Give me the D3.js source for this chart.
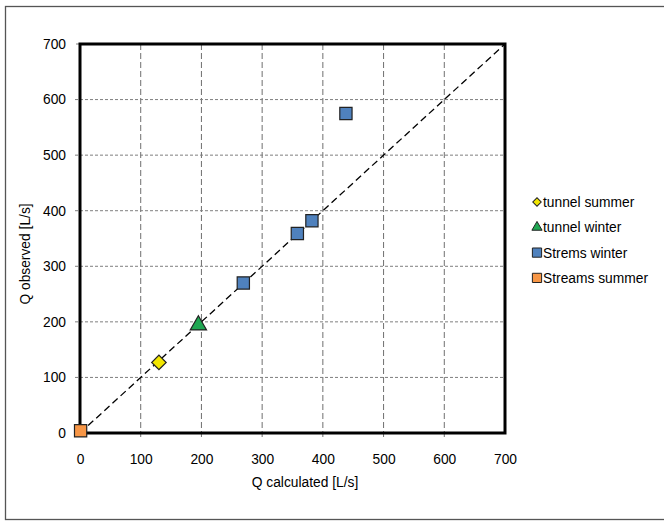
<!DOCTYPE html>
<html><head><meta charset="utf-8">
<script src="https://cdn.jsdelivr.net/npm/d3@7"></script>
<style>body{margin:0;background:#fff}text{font-family:"Liberation Sans",Arial,sans-serif;}</style>
</head><body>
<svg id="c" width="664" height="522"></svg>
<script>
const xTicks = [0,100,200,300,400,500,600,700];
const yTicks = [0,100,200,300,400,500,600,700];
const tunnelSummer = [[130,127]];
const tunnelWinter = [[195,194]];
const stremsWinter = [[269,270],[358,359],[382,382],[438,575]];
const streamsSummer = [[1,4]];
const legendLabels = ["tunnel summer","tunnel winter","Strems winter","Streams summer"];

const FS = 13.8;
const svg = d3.select("#c");
svg.append("rect").attr("x",5.5).attr("y",6.5).attr("width",670).attr("height",513)
  .attr("fill","#fff").attr("stroke","#555").attr("stroke-width",1.3);

const x = d3.scaleLinear().domain([0,700]).range([80,505]);
const y = d3.scaleLinear().domain([0,700]).range([433,44]);

const g = svg.append("g");
g.selectAll(".vg").data(xTicks.filter(d=>d>0&&d<700)).enter().append("line")
  .attr("x1",d=>x(d)).attr("x2",d=>x(d)).attr("y1",y(700)).attr("y2",y(0)+5)
  .attr("stroke","#6f6f6f").attr("stroke-width",1).attr("stroke-dasharray","6,3");
g.selectAll(".hg").data(yTicks.filter(d=>d>0&&d<700)).enter().append("line")
  .attr("x1",x(0)-5).attr("x2",x(700)).attr("y1",d=>y(d)).attr("y2",d=>y(d))
  .attr("stroke","#7f7f7f").attr("stroke-width",1).attr("stroke-dasharray","3,2");
g.append("line").attr("x1",x(0)-4).attr("x2",x(0)).attr("y1",y(700)).attr("y2",y(700)).attr("stroke","#7f7f7f");
g.append("line").attr("x1",x(0)-4).attr("x2",x(0)).attr("y1",y(0)).attr("y2",y(0)).attr("stroke","#7f7f7f");

const xa = svg.append("g").attr("transform",`translate(0,${y(0)})`)
  .call(d3.axisBottom(x).tickValues(xTicks).tickSize(0).tickPadding(21));
xa.select(".domain").remove();
xa.selectAll("text").attr("font-size",FS).attr("fill","#000").attr("font-family","Liberation Sans, Arial, sans-serif");
const ya = svg.append("g").attr("transform",`translate(${x(0)},0)`)
  .call(d3.axisLeft(y).tickValues(yTicks).tickSize(0).tickPadding(14));
ya.select(".domain").remove();
ya.selectAll("text").attr("font-size",FS).attr("fill","#000").attr("font-family","Liberation Sans, Arial, sans-serif");

svg.append("rect").attr("x",x(0)).attr("y",y(700)).attr("width",x(700)-x(0)).attr("height",y(0)-y(700))
  .attr("fill","none").attr("stroke","#000").attr("stroke-width",3);

svg.append("line").attr("x1",x(0)).attr("y1",y(0)).attr("x2",x(700)).attr("y2",y(700))
  .attr("stroke","#000").attr("stroke-width",1.3).attr("stroke-dasharray","7,4");

const sq = d3.symbol().type(d3.symbolSquare).size(150);
const tri = d3.symbol().type(d3.symbolTriangle).size(115);
const dia = d3.symbol().type(d3.symbolSquare).size(105);
function pts(data, sym, fill, rot){
  svg.append("g").selectAll("path").data(data).enter().append("path")
    .attr("d",sym).attr("transform",d=>`translate(${x(d[0])},${y(d[1])}) rotate(${rot||0})`)
    .attr("fill",fill).attr("stroke","#222").attr("stroke-width",1.2);
}
pts(tunnelSummer, dia, "#f2e600", 45);
pts(tunnelWinter, tri, "#1fa752");
pts(stremsWinter, sq, "#4f81bd");
pts(streamsSummer, sq, "#f79646");

const legSyms = [[d3.symbolSquare,"#f2e600",36,45],[d3.symbolTriangle,"#1fa752",45,0],[d3.symbolSquare,"#4f81bd",85,0],[d3.symbolSquare,"#f79646",85,0]];
const leg = svg.append("g");
legendLabels.forEach((t,i)=>{
  const yy = 202 + i*25.3;
  leg.append("path").attr("d",d3.symbol().type(legSyms[i][0]).size(legSyms[i][2]))
    .attr("transform",`translate(537,${yy}) rotate(${legSyms[i][3]})`).attr("fill",legSyms[i][1]).attr("stroke","#222").attr("stroke-width",1);
  leg.append("text").attr("x",543).attr("y",yy+5).attr("font-size",FS).text(t);
});

svg.append("text").attr("x",305).attr("y",487).attr("text-anchor","middle").attr("font-size",FS).text("Q calculated [L/s]");
svg.append("text").attr("transform","translate(30,254) rotate(-90)").attr("text-anchor","middle").attr("font-size",FS).text("Q observed [L/s]");
</script>
</body></html>
